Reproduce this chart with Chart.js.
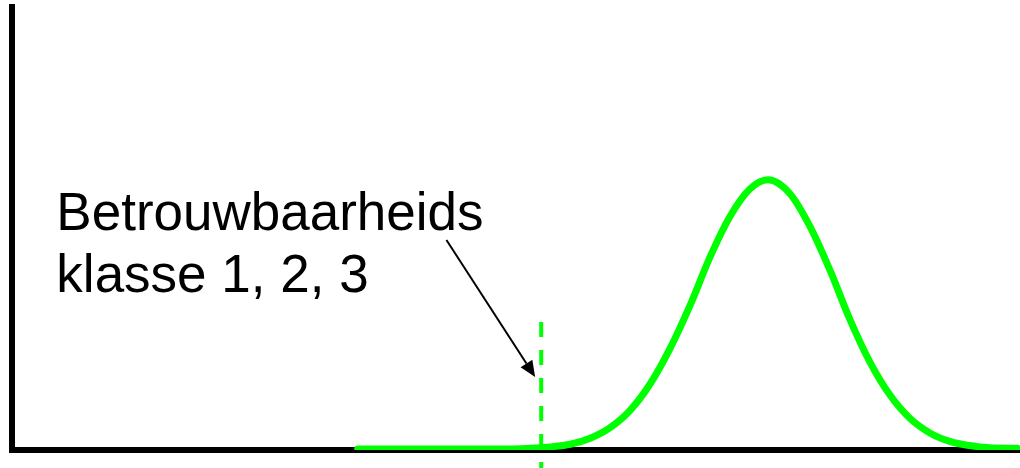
<!DOCTYPE html>
<html lang="nl">
<head>
<meta charset="UTF-8">
<title>Betrouwbaarheidsklasse</title>
<script src="https://cdn.jsdelivr.net/npm/chart.js"></script>
<style>
  html, body { margin: 0; padding: 0; background: #fff; }
  #wrap { width: 1020px; height: 468px; }
</style>
</head>
<body>
<div id="wrap"><canvas id="chart"></canvas></div>
<script>
  // curve (x: 0-100 along the axis, y: 0-100 up the axis)
  const curveX = [34.3, 43.5, 48.4, 51.4, 53.4, 55.4, 57.3, 59.3, 61.3, 63.3, 65.3, 67.3, 69.2, 71.2, 73.2, 75.0, 77.2, 79.2, 81.2, 83.1, 85.1, 87.1, 89.1, 91.1, 93.1, 95.0, 97.0, 99.7];
  const curveY = [0.2, 0.2, 0.2, 0.4, 0.7, 1.3, 2.6, 5.0, 8.9, 14.9, 23.0, 32.8, 43.3, 52.6, 58.9, 61.0, 57.8, 50.3, 40.3, 29.6, 19.9, 12.4, 7.1, 3.8, 1.9, 1.0, 0.5, 0.4];

  // dashed limit line
  const limitX = [52.5, 52.5];
  const limitY = [28.9, -4.1];

  // label and arrow
  const labelLines = ['Betrouwbaarheids', 'klasse 1, 2, 3'];
  const arrowFrom = [43.1, 47.4];
  const arrowTo = [51.9, 16.5];

  const toPoints = (xs, ys) => xs.map((x, i) => ({ x: x, y: ys[i] }));

  const labelPlugin = {
    id: 'label',
    afterDatasetsDraw(chart) {
      const ctx = chart.ctx;
      const xs = chart.scales.x, ys = chart.scales.y;
      ctx.save();
      ctx.fillStyle = '#000';
      ctx.font = '53px "Liberation Sans", Arial, sans-serif';
      ctx.textBaseline = 'alphabetic';
      const lx = xs.getPixelForValue(4.4);
      const ly = ys.getPixelForValue(49.7);
      labelLines.forEach((t, i) => ctx.fillText(t, lx, ly + i * 62));

      // arrow
      const x1 = xs.getPixelForValue(arrowFrom[0]), y1 = ys.getPixelForValue(arrowFrom[1]);
      const x2 = xs.getPixelForValue(arrowTo[0]), y2 = ys.getPixelForValue(arrowTo[1]);
      const ang = Math.atan2(y2 - y1, x2 - x1);
      const head = 16, half = 7;
      const bx = x2 - head * Math.cos(ang), by = y2 - head * Math.sin(ang);
      ctx.strokeStyle = '#000';
      ctx.lineWidth = 2;
      ctx.beginPath();
      ctx.moveTo(x1, y1);
      ctx.lineTo(bx, by);
      ctx.stroke();
      ctx.beginPath();
      ctx.moveTo(x2, y2);
      ctx.lineTo(bx + half * Math.sin(ang), by - half * Math.cos(ang));
      ctx.lineTo(bx - half * Math.sin(ang), by + half * Math.cos(ang));
      ctx.closePath();
      ctx.fill();
      ctx.restore();
    }
  };

  new Chart(document.getElementById('chart'), {
    type: 'line',
    data: {
      datasets: [
        {
          data: toPoints(curveX, curveY),
          borderColor: '#00ff00',
          borderWidth: 7,
          borderCapStyle: 'round',
          borderJoinStyle: 'round',
          pointRadius: 0,
          cubicInterpolationMode: 'monotone',
          fill: false
        },
        {
          data: toPoints(limitX, limitY),
          borderColor: '#00ff00',
          borderWidth: 4,
          borderDash: [15, 13],
          pointRadius: 0,
          clip: false,
          fill: false
        }
      ]
    },
    options: {
      responsive: true,
      maintainAspectRatio: false,
      animation: false,
      devicePixelRatio: 1,
      layout: { autoPadding: false, padding: { left: 12, top: 7, right: 0, bottom: 18 } },
      plugins: { legend: { display: false }, tooltip: { enabled: false } },
      scales: {
        x: {
          type: 'linear', min: 0, max: 100,
          grid: { display: false, drawTicks: false },
          ticks: { display: false },
          border: { display: true, color: '#000', width: 6 }
        },
        y: {
          type: 'linear', min: 0, max: 100,
          grid: { display: false, drawTicks: false },
          ticks: { display: false },
          border: { display: true, color: '#000', width: 6 }
        }
      }
    },
    plugins: [labelPlugin]
  });
</script>
</body>
</html>
